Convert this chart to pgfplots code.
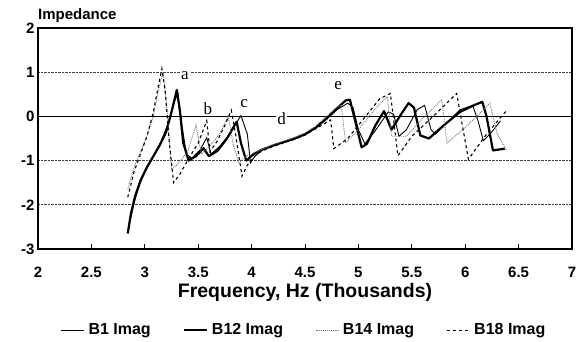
\documentclass[border=0pt]{standalone}
\usepackage{fontspec}
\setmainfont{Liberation Sans}
\newfontfamily\seriffont{Liberation Serif}
\usepackage{pgfplots}
\pgfplotsset{compat=1.18}
\begin{document}
\begin{tikzpicture}[x=1pt,y=1pt]
\path[use as bounding box] (0,0) rectangle (587,341);
\begin{axis}[
  at={(38pt,92pt)}, anchor=south west,
  scale only axis, width=534pt, height=221pt,
  xmin=2, xmax=7, ymin=-3, ymax=2,
  xtick={2,2.5,3,3.5,4,4.5,5,5.5,6,6.5,7},
  xticklabels={2,2.5,3,3.5,4,4.5,5,5.5,6,6.5,7},
  ytick={-3,-2,-1,0,1,2},
  yticklabels={-3,-2,-1,0,1,2},
  xtick pos=left, tick align=inside, major tick length=5pt,
  ytick style={draw=none},
  xtick style={black, line width=1pt},
  axis line style={black, line width=1.3pt},
  tick label style={font=\fontsize{15}{15}\selectfont\bfseries},
  xticklabel style={anchor=base, yshift=-28pt},
  ymajorgrids,
  major grid style={densely dotted, black!75, line width=0.9pt},
  extra y ticks={0}, extra y tick labels={},
  extra y tick style={grid=major, major grid style={solid, black, line width=1.3pt}, tick style={draw=none}},
  xlabel={Frequency, Hz (Thousands)},
  xlabel style={at={(axis description cs:0.5,0)}, anchor=base, yshift=-48pt, font=\fontsize{19.5}{19.5}\selectfont\bfseries},
  ylabel={Impedance},
  ylabel style={rotate=-90, at={(axis description cs:0,1)}, anchor=base west, yshift=8.7pt, inner sep=0pt, font=\fontsize{15}{15}\selectfont\bfseries},
  legend columns=4,
  legend style={draw=none, fill=none, at={(axis description cs:0.5,-0.367)}, anchor=center,
    font=\fontsize{16}{16}\selectfont\bfseries,
    nodes={font=\fontsize{16}{16}\selectfont\bfseries, inner sep=4pt},
    /tikz/every even column/.append style={column sep=28pt}},
  legend image code/.code={\draw[#1] (0pt,0pt) -- (23pt,0pt);},
]
\node[font=\seriffont\fontsize{17}{17}\selectfont, fill=white, inner sep=1pt] at (axis cs:3.375,0.93) {a};
\node[font=\seriffont\fontsize{17}{17}\selectfont, fill=white, inner sep=1pt] at (axis cs:3.59,0.18) {b};
\node[font=\seriffont\fontsize{17}{17}\selectfont, fill=white, inner sep=1pt] at (axis cs:3.93,0.30) {c};
\node[font=\seriffont\fontsize{17}{17}\selectfont, fill=white, inner sep=1pt] at (axis cs:4.28,-0.05) {d};
\node[font=\seriffont\fontsize{17}{17}\selectfont, fill=white, inner sep=1pt] at (axis cs:4.81,0.70) {e};

% B1 Imag (thin solid)
\addplot[black, line width=0.9pt] table {
2.86 -2.40
2.90 -1.95
2.95 -1.55
3.00 -1.25
3.07 -0.95
3.15 -0.58
3.22 -0.15
3.28 0.35
3.31 0.52
3.35 -0.25
3.39 -0.85
3.44 -0.95
3.52 -0.75
3.58 -0.48
3.62 -0.85
3.70 -0.68
3.80 -0.38
3.90 0.02
3.96 -0.40
3.99 -1.05
4.03 -0.90
4.10 -0.76
4.20 -0.67
4.30 -0.59
4.40 -0.52
4.50 -0.42
4.60 -0.27
4.70 -0.07
4.80 0.15
4.90 0.30
4.95 0.20
5.00 -0.30
5.06 -0.62
5.15 -0.35
5.28 0.10
5.33 0.05
5.38 -0.45
5.45 -0.30
5.55 0.15
5.62 0.25
5.68 -0.30
5.72 -0.40
5.85 -0.10
5.95 0.15
6.07 0.25
6.12 -0.10
6.17 -0.55
6.25 -0.35
6.33 -0.10
};
\addlegendentry{B1 Imag}

% B12 Imag (thick solid)
\addplot[black, line width=2.2pt, line join=round] table {
2.84 -2.65
2.87 -2.20
2.91 -1.80
2.96 -1.45
3.02 -1.15
3.08 -0.90
3.14 -0.65
3.20 -0.35
3.25 0.10
3.30 0.60
3.33 0.10
3.36 -0.60
3.41 -1.00
3.48 -0.90
3.55 -0.72
3.60 -0.90
3.68 -0.78
3.77 -0.50
3.86 -0.12
3.90 -0.60
3.95 -1.00
4.02 -0.85
4.10 -0.75
4.20 -0.66
4.30 -0.58
4.40 -0.50
4.50 -0.40
4.60 -0.25
4.70 -0.05
4.80 0.18
4.88 0.36
4.92 0.38
4.97 -0.10
5.03 -0.70
5.08 -0.62
5.16 -0.20
5.24 0.12
5.31 -0.30
5.40 0.05
5.47 0.30
5.52 0.20
5.58 -0.43
5.66 -0.50
5.80 -0.20
5.95 0.10
6.08 0.25
6.16 0.33
6.20 0.00
6.26 -0.77
6.37 -0.73
};
\addlegendentry{B12 Imag}

% B14 Imag (dotted grey)
\addplot[black!55, densely dotted, line width=0.9pt] table {
2.84 -1.65
2.90 -1.15
2.96 -0.80
3.02 -0.45
3.08 0.00
3.12 0.50
3.17 1.00
3.20 0.40
3.25 -1.20
3.30 -1.10
3.40 -0.80
3.48 -0.20
3.53 -0.85
3.60 -0.70
3.70 -0.40
3.78 0.00
3.83 -0.65
3.88 -1.05
3.95 -0.90
4.05 -0.80
4.10 -0.74
4.20 -0.64
4.30 -0.56
4.40 -0.48
4.50 -0.38
4.60 -0.22
4.70 0.00
4.80 0.22
4.84 0.25
4.88 -0.60
5.00 -0.30
5.15 0.15
5.27 0.45
5.31 -0.45
5.45 -0.45
5.60 -0.05
5.78 0.38
5.83 -0.60
6.00 -0.25
6.15 0.10
6.23 0.30
6.30 -0.40
6.39 -0.77
};
\addlegendentry{B14 Imag}

% B18 Imag (dashed)
\addplot[black, dashed, line width=1.1pt] table {
2.84 -1.83
2.90 -1.25
2.96 -0.85
3.02 -0.45
3.08 0.10
3.12 0.60
3.16 1.08
3.19 0.60
3.23 -0.60
3.27 -1.50
3.33 -1.30
3.40 -1.00
3.50 -0.60
3.58 -0.10
3.61 -0.80
3.68 -0.55
3.75 -0.20
3.81 0.14
3.85 -0.40
3.91 -1.35
3.96 -1.10
4.05 -0.85
4.10 -0.78
4.20 -0.68
4.30 -0.60
4.40 -0.52
4.50 -0.42
4.60 -0.28
4.74 -0.08
4.77 -0.73
4.90 -0.50
5.05 -0.05
5.20 0.40
5.30 0.52
5.37 -0.89
5.50 -0.45
5.70 0.00
5.92 0.52
6.03 -0.97
6.20 -0.40
6.39 0.14
};
\addlegendentry{B18 Imag}
\end{axis}
\end{tikzpicture}
\end{document}
